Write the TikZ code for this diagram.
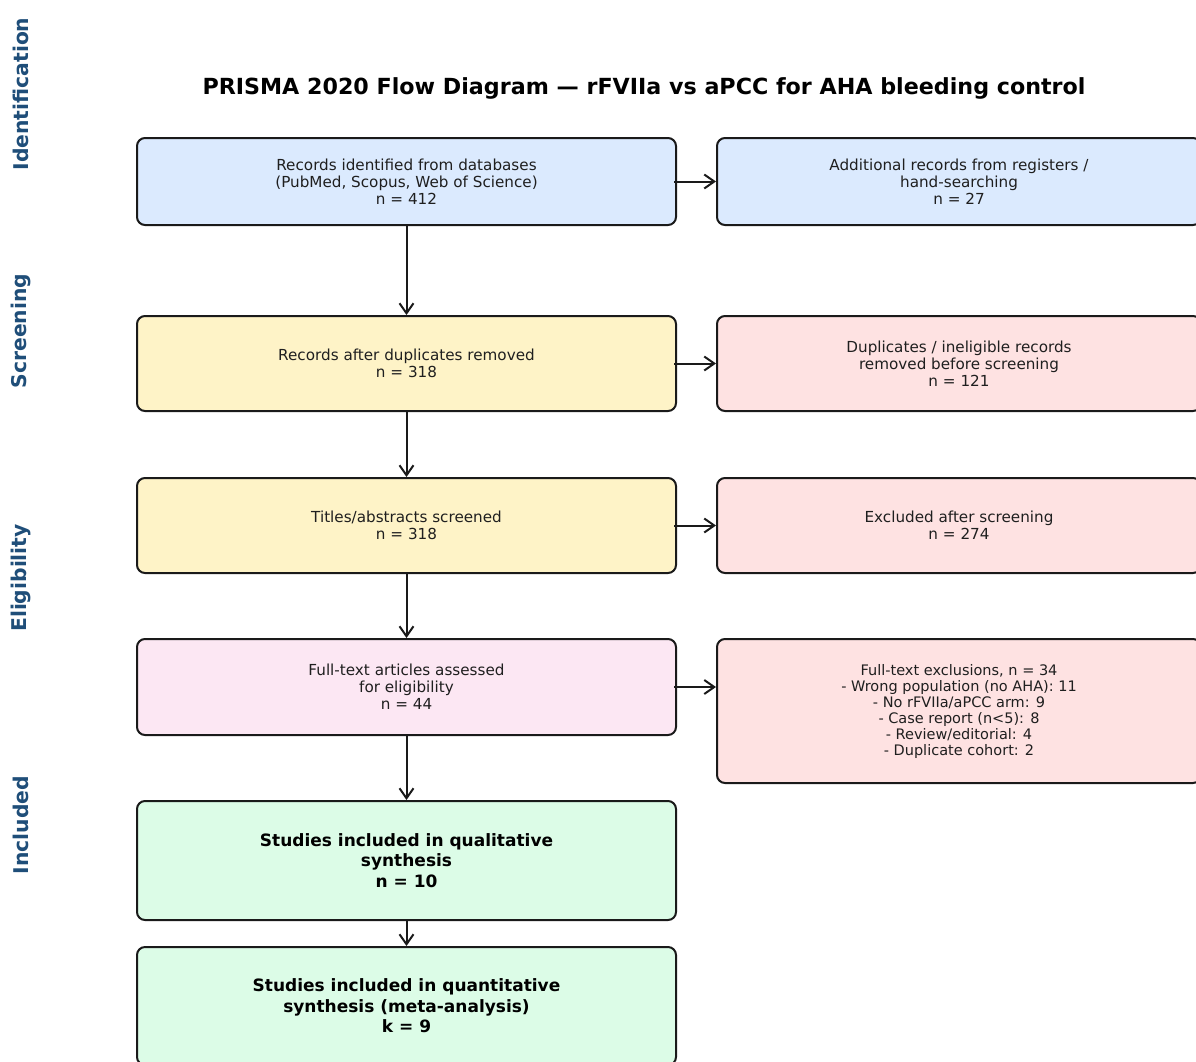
\documentclass[tikz,border=0pt]{standalone}
\usepackage{fontspec}
\setmainfont{DejaVu Sans}
\usetikzlibrary{arrows.meta}
\definecolor{cblue}{HTML}{DBEAFE}
\definecolor{cyellow}{HTML}{FEF3C7}
\definecolor{cred}{HTML}{FEE2E2}
\definecolor{cpink}{HTML}{FCE7F3}
\definecolor{cgreen}{HTML}{DCFCE7}
\definecolor{lane}{HTML}{1F4E79}
\definecolor{edge}{HTML}{1A1A1A}
\begin{document}
\begin{tikzpicture}[x=1pt,y=-1pt,
  box/.style={draw=edge, line width=2pt, rounded corners=8pt, align=center, inner sep=0pt,
     font=\fontsize{15.2}{17}\selectfont, text=black!88},
  lbox/.style={box, minimum width=539pt},
  rbox/.style={box, minimum width=484pt},
  bbox/.style={lbox, font=\fontsize{17}{20.5}\selectfont\bfseries, text=black},
  lanelab/.style={rotate=90, font=\fontsize{20.3}{24}\selectfont\bfseries, text=lane},
  arr/.style={-{Straight Barb[length=10pt,width=14pt,line width=2pt]}, line width=2pt, draw=edge}]
\useasboundingbox (0,0) rectangle (1196,1061);
\fill[white] (0,0) rectangle (1196,1061);

\node[font=\fontsize{22.2}{26}\selectfont\bfseries] (title) at (644,88) {PRISMA 2020 Flow Diagram — rFVIIa vs aPCC for AHA bleeding control};

\node[lanelab] (l1) at (21,94) {Identification};
\node[lanelab] (l2) at (21,331) {Screening};
\node[lanelab] (l3) at (21,578) {Eligibility};
\node[lanelab] (l4) at (21,825) {Included};

\node[lbox, fill=cblue, minimum height=87pt] (a) at (406.5,181.5) {Records identified from databases\\(PubMed, Scopus, Web of Science)\\n = 412};
\node[rbox, fill=cblue, minimum height=87pt] (b) at (959,181.5) {Additional records from registers /\\hand-searching\\n = 27};

\node[lbox, fill=cyellow, minimum height=95pt] (c) at (406.5,363.5) {Records after duplicates removed\\n = 318};
\node[rbox, fill=cred, minimum height=95pt] (d) at (959,363.5) {Duplicates / ineligible records\\removed before screening\\n = 121};

\node[lbox, fill=cyellow, minimum height=95pt] (e) at (406.5,525.5) {Titles/abstracts screened\\n = 318};
\node[rbox, fill=cred, minimum height=95pt] (f) at (959,525.5) {Excluded after screening\\n = 274};

\node[lbox, fill=cpink, minimum height=96pt] (g) at (406.5,687) {Full-text articles assessed\\for eligibility\\n = 44};
\node[rbox, fill=cred, minimum height=144pt, font=\fontsize{14.5}{16}\selectfont] (h) at (959,711) {Full-text exclusions, n = 34\\- Wrong population (no AHA): 11\\- No rFVIIa/aPCC arm: 9\\- Case report (n<5): 8\\- Review/editorial: 4\\- Duplicate cohort: 2};

\node[bbox, fill=cgreen, minimum height=119pt] (i) at (406.5,860.5) {Studies included in qualitative\\synthesis\\n = 10};
\node[bbox, fill=cgreen, minimum height=118pt] (j) at (406.5,1006) {Studies included in quantitative\\synthesis (meta-analysis)\\k = 9};

\draw[arr] (a) -- (c);
\draw[arr] (c) -- (e);
\draw[arr] (e) -- (g);
\draw[arr] (g) -- (i);
\draw[arr] (i) -- (j);
\draw[arr] (a.east) ++(-3,0) -- (b.west);
\draw[arr] (c.east) ++(-3,0) -- (d.west);
\draw[arr] (e.east) ++(-3,0) -- (f.west);
\draw[arr] (g.east) ++(-3,0) -- (g.east -| h.west);
\end{tikzpicture}
\end{document}
